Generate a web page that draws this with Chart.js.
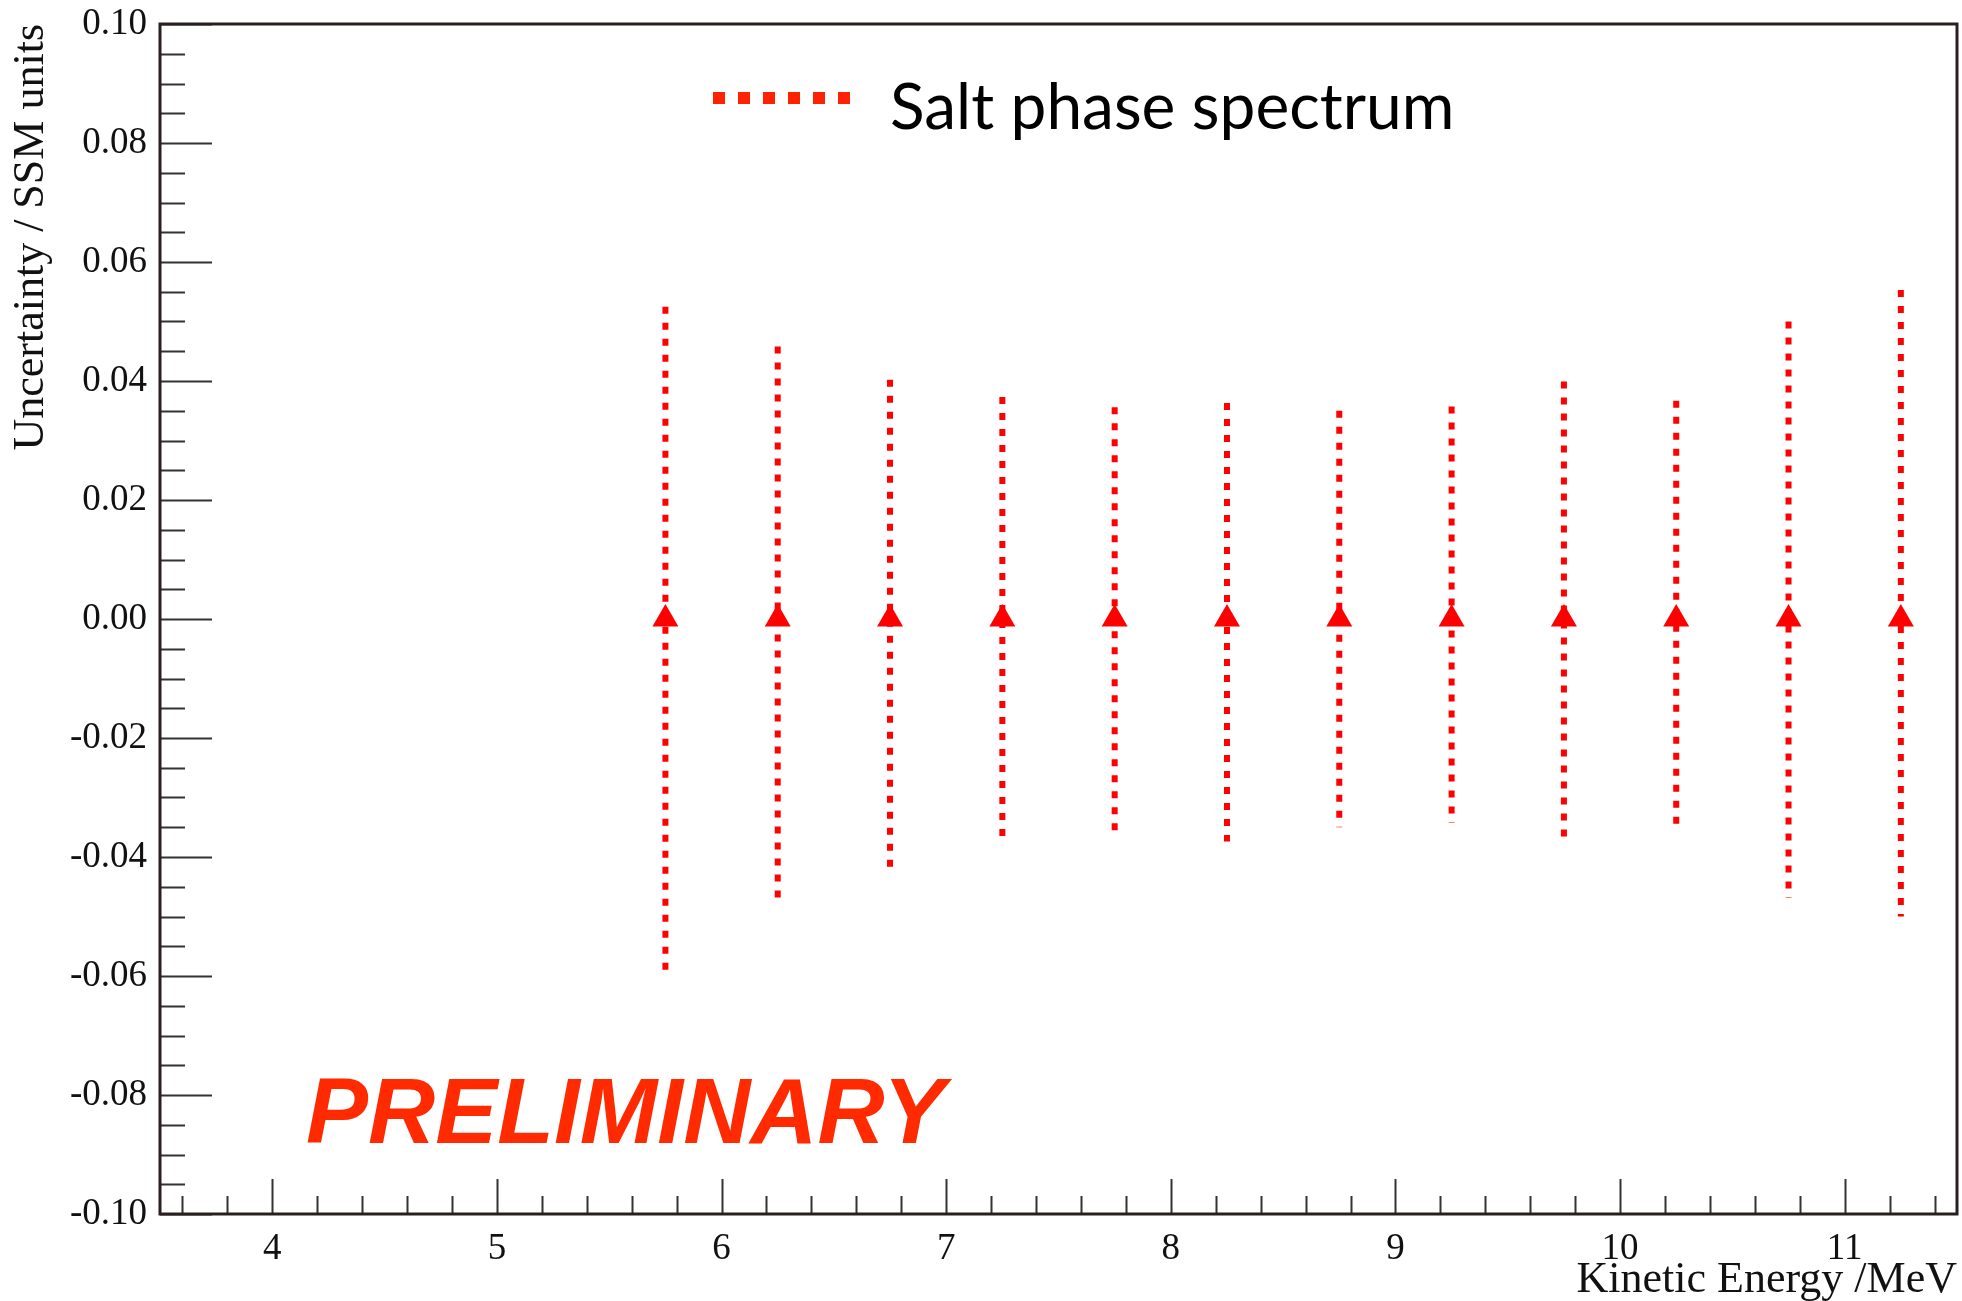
<!DOCTYPE html>
<html>
<head>
<meta charset="utf-8">
<title>Salt phase spectrum uncertainty</title>
<script src="https://cdn.jsdelivr.net/npm/chart.js@4.4.1/dist/chart.umd.min.js"></script>
<style>
    html, body { margin: 0; padding: 0; background: #fff; overflow: hidden; }
    #uncChart { display: block; }
</style>
</head>
<body>
<canvas id="uncChart" width="1962" height="1301"></canvas>
<script>
// bin centres (MeV) and uncertainty band, SSM units
const energies = [5.75, 6.25, 6.75, 7.25, 7.75, 8.25, 8.75, 9.25, 9.75, 10.25, 10.75, 11.25];
const centralValues = [0, 0, 0, 0, 0, 0, 0, 0, 0, 0, 0, 0];
const errUp = [0.0525, 0.0458, 0.0402, 0.0373, 0.0356, 0.0363, 0.0350, 0.0357, 0.0399, 0.0367, 0.0500, 0.0553];
const errDown = [0.0593, 0.0472, 0.0422, 0.0369, 0.0363, 0.0374, 0.0350, 0.0343, 0.0380, 0.0348, 0.0469, 0.0500];

const xTickLabels = [4, 5, 6, 7, 8, 9, 10, 11];
const yTickLabels = [-0.10, -0.08, -0.06, -0.04, -0.02, 0.00, 0.02, 0.04, 0.06, 0.08, 0.10];

const RED = '#ff0000';
const SERIF = '"Liberation Serif", "Times New Roman", serif';

// each bar is its own segment, broken by a null point
const barPoints = [];
energies.forEach((e, i) => {
    barPoints.push({ x: e, y: centralValues[i] + errUp[i] });
    barPoints.push({ x: e, y: centralValues[i] - errDown[i] });
    barPoints.push({ x: e, y: null });
});

// keep the label padding from growing the chart area
const noEdgePadding = s => {
    s.paddingTop = 0;
    s.paddingBottom = 0;
    s.paddingLeft = 0;
    s.paddingRight = 0;
};

// inward ticks, frame, legend and stamp
const rootStyle = {
    id: 'rootStyle',
    afterDraw(chart) {
        const { ctx, chartArea: a, scales: { x, y } } = chart;
        ctx.save();

        ctx.strokeStyle = '#333';
        ctx.lineWidth = 2;
        ctx.beginPath();
        for (let k = -20; k <= 20; k++) {
            const py = Math.round(y.getPixelForValue(k * 0.005)) + 0.5;
            const len = k % 4 === 0 ? 52 : 25;
            ctx.moveTo(a.left, py);
            ctx.lineTo(a.left + len, py);
        }
        for (let k = 18; k <= 57; k++) {
            const px = Math.round(x.getPixelForValue(k * 0.2)) + 0.5;
            const len = k % 5 === 0 ? 35 : 18;
            ctx.moveTo(px, a.bottom);
            ctx.lineTo(px, a.bottom - len);
        }
        ctx.stroke();

        ctx.strokeStyle = '#2a1f1f';
        ctx.lineWidth = 3;
        ctx.strokeRect(a.left, a.top, a.right - a.left, a.bottom - a.top);

        // legend
        const ds = chart.data.datasets[1];
        const ly = a.top + 74;
        ctx.strokeStyle = '#ff2200';
        ctx.lineWidth = 12;
        ctx.setLineDash([12, 13]);
        ctx.beginPath();
        ctx.moveTo(a.left + 553, ly);
        ctx.lineTo(a.left + 693, ly);
        ctx.stroke();
        ctx.setLineDash([]);
        ctx.fillStyle = '#000';
        ctx.font = '64px Lato, "Open Sans", sans-serif';
        ctx.textBaseline = 'alphabetic';
        ctx.textAlign = 'left';
        ctx.fillText(ds.label, a.left + 730, a.top + 105);

        // stamp
        ctx.fillStyle = '#ff2a00';
        ctx.font = 'italic bold 93px "Liberation Sans", Arial, sans-serif';
        ctx.fillText('PRELIMINARY', x.getPixelForValue(4.15), y.getPixelForValue(-0.088));

        ctx.restore();
    }
};

new Chart(document.getElementById('uncChart'), {
    data: {
        datasets: [
            {
                type: 'scatter',
                label: 'centre',
                data: energies.map((e, i) => ({ x: e, y: centralValues[i] })),
                pointStyle: 'triangle',
                pointRadius: 15,
                pointHoverRadius: 15,
                pointBackgroundColor: RED,
                pointBorderWidth: 0
            },
            {
                type: 'line',
                label: 'Salt phase spectrum',
                data: barPoints,
                borderColor: RED,
                borderWidth: 6,
                borderDash: [7, 9],
                borderCapStyle: 'butt',
                spanGaps: false,
                pointRadius: 0,
                tension: 0,
                fill: false
            }
        ]
    },
    options: {
        responsive: false,
        devicePixelRatio: 1,
        animation: false,
        events: [],
        layout: { autoPadding: false, padding: { top: 24, right: 5, left: 0, bottom: 0 } },
        plugins: {
            legend: { display: false },
            tooltip: { enabled: false }
        },
        scales: {
            x: {
                type: 'linear',
                min: 3.5,
                max: 11.5,
                afterBuildTicks: s => { s.ticks = xTickLabels.map(v => ({ value: v })); },
                afterFit: s => { s.height = 87; noEdgePadding(s); },
                grid: { display: false, drawTicks: false },
                border: { display: false },
                ticks: {
                    padding: 13,
                    color: '#111',
                    font: { family: SERIF, size: 37 },
                    maxRotation: 0,
                    callback: v => String(v)
                },
                title: {
                    display: true,
                    text: 'Kinetic Energy /MeV',
                    align: 'end',
                    color: '#111',
                    font: { family: SERIF, size: 44, lineHeight: 0.95 },
                    padding: { top: 0, bottom: 0 }
                }
            },
            y: {
                type: 'linear',
                min: -0.1,
                max: 0.1,
                afterBuildTicks: s => { s.ticks = yTickLabels.map(v => ({ value: v })); },
                afterFit: s => { s.width = 160; noEdgePadding(s); },
                grid: { display: false, drawTicks: false },
                border: { display: false },
                ticks: {
                    padding: 13,
                    color: '#111',
                    font: { family: SERIF, size: 37 },
                    callback: v => v.toFixed(2)
                },
                title: {
                    display: true,
                    text: 'Uncertainty / SSM units',
                    align: 'end',
                    color: '#111',
                    font: { family: SERIF, size: 44, lineHeight: 1.2 },
                    padding: { top: 5, bottom: 0 }
                }
            }
        }
    },
    plugins: [rootStyle]
});
</script>
</body>
</html>
